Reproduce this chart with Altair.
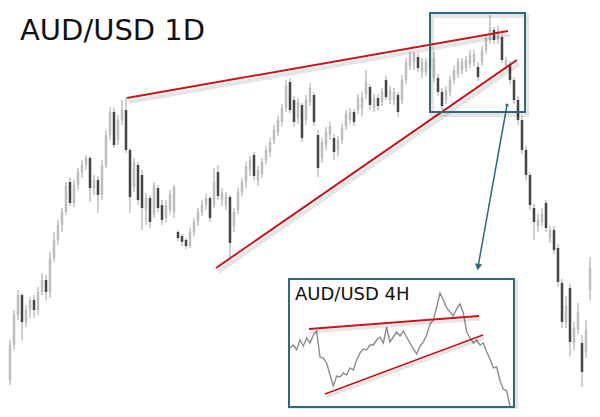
import altair as alt
import pandas as pd

# ---- AUD/USD daily candles (price in chart points) ----
opens = [133,63,40,75,105,125,98,110,120,110,128,140,128,162,180,195,208,238,217,235,
         248,255,262,232,240,225,255,285,308,280,300,310,270,233,255,245,210,222,205,232,
         215,202,210,208,188,184,180,174,188,198,208,215,222,215,248,220,215,223,194,210,
         228,238,250,265,240,246,260,268,280,288,298,312,338,320,302,315,300,318,325,285,
         262,275,285,282,270,280,294,300,308,310,312,325,333,312,322,318,340,320,320,325,
         320,340,354,358,363,348,348,352,342,342,328,320,328,340,346,350,352,356,358,353,
         358,370,380,390,380,383,354,356,340,320,300,270,245,212,194,198,217,182,190,172,
         137,98,132,77,90,77,68,130,147,138]
closes = [63,40,75,105,125,98,110,120,110,128,140,128,162,180,195,208,235,217,235,248,
          255,262,232,240,225,255,285,308,275,300,310,270,223,258,220,212,222,198,235,212,
          200,215,225,233,182,178,174,188,198,208,215,222,202,238,224,227,223,177,208,228,
          238,254,260,244,250,258,270,278,290,300,312,335,310,298,318,282,320,332,298,252,
          278,288,294,268,280,292,306,308,298,322,323,338,315,322,314,328,323,330,328,308,
          340,358,365,366,352,358,358,362,362,328,314,330,340,350,358,358,360,365,366,343,
          370,382,392,380,390,360,360,340,320,300,270,245,215,198,200,206,192,190,170,138,
          98,115,78,92,108,48,90,152,135,128]
highs = [135,65,80,110,130,127,115,123,125,133,147,145,168,188,200,212,238,242,240,252,
         260,265,264,245,244,260,290,313,312,305,320,323,272,262,258,250,227,225,238,235,
         220,220,230,235,190,186,182,192,202,212,220,226,224,252,255,232,228,225,212,232,
         242,258,264,268,254,262,274,282,295,304,316,340,342,324,322,317,325,337,328,290,
         282,293,298,286,284,296,310,312,311,326,328,350,336,326,326,332,344,334,332,328,
         345,362,368,368,366,362,362,365,368,346,332,334,344,354,362,362,364,370,370,358,
         374,386,405,393,394,386,363,359,343,324,304,274,248,216,206,212,220,194,194,176,
         141,124,136,98,117,85,100,163,152,142]
lows = [58,10,35,70,100,80,93,102,102,105,125,120,122,158,175,188,205,214,213,230,
        242,250,218,225,207,220,252,280,272,275,295,267,207,228,215,190,195,192,202,208,
        195,197,206,202,179,174,171,172,184,194,204,210,198,212,220,214,210,163,188,206,
        224,232,244,240,234,242,256,263,276,284,294,308,307,293,296,278,295,314,294,243,
        257,270,280,260,264,276,290,296,294,306,304,321,310,308,310,314,320,316,315,303,
        316,336,350,350,348,342,344,348,338,324,310,316,324,336,342,346,348,352,354,339,
        354,366,376,376,376,357,350,336,316,295,266,240,210,180,188,194,188,177,166,133,
        92,92,64,70,86,33,62,120,130,77]
days = list(range(len(opens)))

# ---- AUD/USD 4H inset closes (chart points) ----
inset_close = [72,75,70,80,74,82,77,85,89,63,62,57,45,34,44,43,47,45,52,50,
               60,67,71,70,75,75,80,83,77,93,78,83,88,84,89,83,77,71,66,74,
               78,85,96,100,113,127,120,112,108,104,111,116,107,88,82,77,80,75,77,68,
               61,52,53,39,31,29,14]
inset_bars = list(range(len(inset_close)))

# ---- annotations (in chart units) ----
trend_day = [[31.25, 126.5], [53.5, 128.75]]
trend_px = [[322, 389], [152, 360]]
inset_trend_bar = [[5.7, 56.7], [10.5, 57.9]]
inset_trend_px = [[91, 104], [26, 85]]

df = pd.DataFrame({"day": days, "open": opens, "close": closes, "high": highs, "low": lows})
df["dir"] = ["up" if c >= o else "down" for o, c in zip(opens, closes)]

XS = alt.Scale(domain=[1.5, 147.5])
YS = alt.Scale(domain=[11, 412])
TEAL = "#2f6a78"
RED = "#cc1418"

wick = alt.Chart(df).mark_rule(color="#a0a0a0", strokeWidth=1, clip=True).encode(
    x=alt.X("day:Q", scale=XS, axis=None),
    y=alt.Y("low:Q", scale=YS, axis=None),
    y2="high:Q",
)
body = alt.Chart(df).mark_rule(strokeWidth=2.5, clip=True).encode(
    x=alt.X("day:Q", scale=XS, axis=None),
    y=alt.Y("open:Q", scale=YS, axis=None),
    y2="close:Q",
    color=alt.Color("dir:N", scale=alt.Scale(domain=["up", "down"], range=["#bdbdbd", "#444444"]), legend=None),
)

tl = pd.DataFrame({"x": [t[0] for t in trend_day], "x2": [t[1] for t in trend_day],
                   "y": [t[0] for t in trend_px], "y2": [t[1] for t in trend_px]})
tl_shadow = alt.Chart(tl).mark_rule(color="#000000", opacity=0.1, strokeWidth=4,
                                    xOffset=2, yOffset=4, x2Offset=2, y2Offset=4).encode(
    x=alt.X("x:Q", scale=XS, axis=None), x2="x2:Q",
    y=alt.Y("y:Q", scale=YS, axis=None), y2="y2:Q")
tl_line = alt.Chart(tl).mark_rule(color=RED, strokeWidth=2).encode(
    x=alt.X("x:Q", scale=XS, axis=None), x2="x2:Q",
    y=alt.Y("y:Q", scale=YS, axis=None), y2="y2:Q")

box = pd.DataFrame({"x": [107.0], "x2": [130.75], "y": [308], "y2": [407]})
box_shadow = alt.Chart(box).mark_rect(fill=None, stroke="#000000", strokeOpacity=0.1, strokeWidth=4,
                                      xOffset=2, yOffset=3, x2Offset=2, y2Offset=3).encode(
    x=alt.X("x:Q", scale=XS, axis=None), x2="x2:Q",
    y=alt.Y("y:Q", scale=YS, axis=None), y2="y2:Q")
box_rect = alt.Chart(box).mark_rect(fill=None, stroke=TEAL, strokeWidth=2).encode(
    x=alt.X("x:Q", scale=XS, axis=None), x2="x2:Q",
    y=alt.Y("y:Q", scale=YS, axis=None), y2="y2:Q")

arrow = pd.DataFrame({"x": [126.25], "x2": [119.0], "y": [315], "y2": [153]})
arrow_line = alt.Chart(arrow).mark_rule(color=TEAL, strokeWidth=1.5).encode(
    x=alt.X("x:Q", scale=XS, axis=None), x2="x2:Q",
    y=alt.Y("y:Q", scale=YS, axis=None), y2="y2:Q")
arrow_dot = alt.Chart(arrow).mark_point(color=TEAL, filled=True, size=10, opacity=1).encode(
    x=alt.X("x:Q", scale=XS, axis=None), y=alt.Y("y:Q", scale=YS, axis=None))
arrow_head = alt.Chart(arrow).mark_point(shape="triangle-down", color=TEAL, filled=True,
                                         size=55, angle=10, opacity=1).encode(
    x=alt.X("x2:Q", scale=XS, axis=None), y=alt.Y("y2:Q", scale=YS, axis=None))

title = alt.Chart(pd.DataFrame({"x": [4.5], "y": [380], "t": ["AUD/USD 1D"]})).mark_text(
    align="left", baseline="alphabetic", font="DejaVu Sans", fontSize=29, color="#111111").encode(
    x=alt.X("x:Q", scale=XS, axis=None), y=alt.Y("y:Q", scale=YS, axis=None), text="t:N")

main = alt.layer(wick, body, tl_shadow, tl_line, box_shadow, box_rect, arrow_line, arrow_dot,
                 arrow_head, title)

# ---- inset ----
IX = alt.Scale(domain=[0, 66], range=[282, 502])
inset_df = pd.DataFrame({"bar": inset_bars, "close": inset_close})
ibox = pd.DataFrame({"x": [-0.3], "x2": [67.2], "y": [13], "y2": [141]})
ibox_shadow = alt.Chart(ibox).mark_rect(fill="white", stroke="#000000", strokeOpacity=0.1, strokeWidth=4,
                                        xOffset=2, yOffset=3, x2Offset=2, y2Offset=3).encode(
    x=alt.X("x:Q", scale=IX, axis=None), x2="x2:Q",
    y=alt.Y("y:Q", scale=YS, axis=None), y2="y2:Q")
ibox_rect = alt.Chart(ibox).mark_rect(fill="white", stroke=TEAL, strokeWidth=2).encode(
    x=alt.X("x:Q", scale=IX, axis=None), x2="x2:Q",
    y=alt.Y("y:Q", scale=YS, axis=None), y2="y2:Q")
iline = alt.Chart(inset_df).mark_line(color="#8c8c8c", strokeWidth=1.4).encode(
    x=alt.X("bar:Q", scale=IX, axis=None), y=alt.Y("close:Q", scale=YS, axis=None))
itl = pd.DataFrame({"x": [t[0] for t in inset_trend_bar], "x2": [t[1] for t in inset_trend_bar],
                    "y": [t[0] for t in inset_trend_px], "y2": [t[1] for t in inset_trend_px]})
itl_shadow = alt.Chart(itl).mark_rule(color="#000000", opacity=0.1, strokeWidth=3,
                                      xOffset=1, yOffset=3, x2Offset=1, y2Offset=3).encode(
    x=alt.X("x:Q", scale=IX, axis=None), x2="x2:Q",
    y=alt.Y("y:Q", scale=YS, axis=None), y2="y2:Q")
itl_line = alt.Chart(itl).mark_rule(color=RED, strokeWidth=1.8).encode(
    x=alt.X("x:Q", scale=IX, axis=None), x2="x2:Q",
    y=alt.Y("y:Q", scale=YS, axis=None), y2="y2:Q")
ititle = alt.Chart(pd.DataFrame({"x": [1.5], "y": [120], "t": ["AUD/USD 4H"]})).mark_text(
    align="left", baseline="alphabetic", font="DejaVu Sans", fontSize=18, color="#111111").encode(
    x=alt.X("x:Q", scale=IX, axis=None), y=alt.Y("y:Q", scale=YS, axis=None), text="t:N")

inset = alt.layer(ibox_shadow, ibox_rect, iline, itl_shadow, itl_line, ititle)

chart = alt.layer(main, inset).resolve_scale(x="independent", y="independent", color="independent").properties(
    width=584, height=401, padding=0, autosize=alt.AutoSizeParams(type="none"),
    background="white").configure_view(stroke=None)

chart.save("out.html", embed_options={"renderer": "svg", "actions": False})
